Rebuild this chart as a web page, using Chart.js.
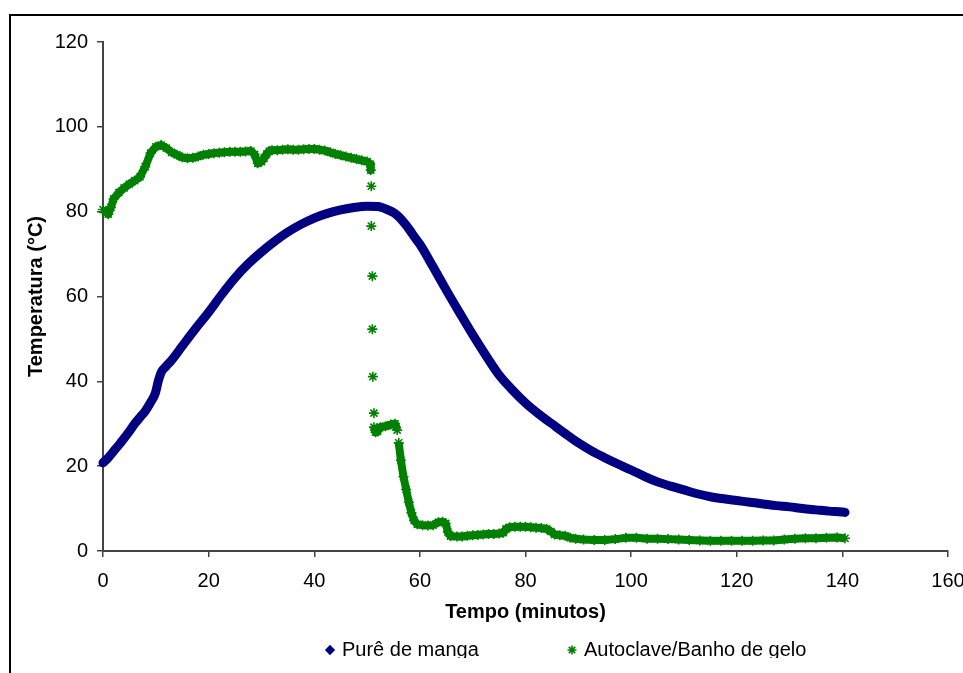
<!DOCTYPE html>
<html>
<head>
<meta charset="utf-8">
<title>Temperatura x Tempo</title>
<script src="https://cdn.jsdelivr.net/npm/chart.js@4.4.1/dist/chart.umd.min.js"></script>
<style>
	html, body { margin: 0; padding: 0; background: #fff; overflow: hidden; }
	canvas { display: block; }
</style>
</head>
<body>
<canvas id="chart" width="963" height="673"></canvas>
<script>
// Purê de manga
const pureTime = [0, 1, 2, 3, 4, 5, 6, 7, 8, 9, 9.9, 10.5, 11.1, 12, 13, 15, 17.5, 20, 22.5, 25, 27.5, 30, 32.5, 35, 37.5, 40, 42.5, 45, 47.5, 50, 52, 54, 55, 56, 57, 58, 59, 60, 62.5, 65, 67.5, 70, 72.5, 75, 77.5, 80, 82.5, 85, 87.5, 90, 92.5, 95, 97.5, 100, 102.5, 105, 107.5, 110, 112.5, 115, 117.5, 120, 122.5, 125, 127.5, 130, 132.5, 135, 137.5, 140, 140.5];
const pureTemp = [20.8, 22, 23.5, 25, 26.6, 28.2, 30, 31.5, 33, 35, 37.2, 40.2, 42.3, 43.6, 45, 48.3, 52.4, 56.3, 60.5, 64.4, 67.7, 70.5, 73, 75.2, 77, 78.5, 79.6, 80.4, 81, 81.3, 81.2, 80.4, 79.8, 78.8, 77.4, 75.8, 74, 72.3, 67, 61.5, 56.2, 51, 46.1, 41.5, 38, 34.9, 32.3, 30, 27.7, 25.5, 23.6, 22, 20.5, 19.1, 17.6, 16.3, 15.3, 14.4, 13.5, 12.8, 12.3, 11.9, 11.5, 11.1, 10.7, 10.4, 10, 9.7, 9.4, 9.2, 9.1];

// Autoclave/Banho de gelo
const autoTime = [0, 0.5, 1, 1.5, 2, 3, 4, 5, 6, 7, 8, 9, 10, 11, 12, 13, 14, 15, 16, 17, 18, 19, 20, 21, 22, 23, 24, 25, 26, 27, 28, 28.7, 29.3, 30, 30.5, 31, 31.5, 32, 33, 34, 35, 36, 37, 38, 39, 40, 41, 42, 43, 44, 45, 46, 47, 48, 49, 50, 50.6,
	50.7, 50.8, 50.8, 51.0, 51.0, 51.1, 51.3, 51.3,
	51.6, 52, 52.5, 53.5, 54.5, 55.3, 55.7, 56.0, 56.4, 56.9, 57.4, 57.9, 58.4, 58.9, 59.5, 60.5, 61.5, 62.5, 63.5, 64.3, 64.9, 65.3, 65.8, 67, 68, 69, 70, 71, 72, 73, 74, 75, 75.8, 76.3, 77, 78, 79, 80, 81, 82, 83, 84, 84.8, 85.5, 86.5, 87.5, 88.5, 89.5, 91, 93, 95, 97, 99, 101, 103, 105, 107, 109, 111, 113, 115, 117, 119, 121, 123, 125, 127, 129, 131, 133, 135, 137, 139, 140.5];
const autoTemp = [80.5, 80, 79.4, 81, 83, 84.5, 85.6, 86.5, 87.3, 88.2, 90.6, 93.8, 95.3, 95.7, 95, 94, 93.4, 92.8, 92.6, 92.7, 93, 93.4, 93.6, 93.8, 93.9, 94, 94.1, 94.1, 94.1, 94.2, 94.3, 93.5, 91.4, 91.8, 92.6, 93.6, 94.3, 94.5, 94.5, 94.6, 94.7, 94.6, 94.6, 94.7, 94.8, 94.8, 94.6, 94.4, 94, 93.6, 93.3, 93, 92.7, 92.4, 92.1, 91.8, 91.2,
	89.8, 86, 76.6, 64.8, 52.3, 41.1, 32.5, 29.2,
	28, 28.2, 29.2, 29.4, 29.8, 30, 28.5, 25.5, 21.4, 17.5, 14.5, 11.5, 9, 7.2, 6.3, 6.1, 6, 6.1, 6.8, 6.9, 6.5, 4.5, 3.5, 3.4, 3.4, 3.6, 3.7, 3.8, 3.9, 4, 4, 4.1, 4.3, 5.2, 5.6, 5.7, 5.7, 5.7, 5.6, 5.5, 5.4, 5.2, 4.6, 3.9, 3.7, 3.6, 3.1, 2.9, 2.7, 2.6, 2.6, 2.8, 3.1, 3.1, 2.9, 2.9, 2.8, 2.7, 2.6, 2.5, 2.4, 2.4, 2.4, 2.4, 2.4, 2.5, 2.5, 2.7, 2.9, 3, 3, 3.1, 3.2, 3];

const xTicks = [0, 20, 40, 60, 80, 100, 120, 140, 160];
const yTicks = [0, 20, 40, 60, 80, 100, 120];

const NAVY = '#000080';
const GREEN = '#008000';
const AXIS = '#444444';
const FONT = "'Liberation Sans', Arial, sans-serif";

function toPoints(xs, ys)
{
	return xs.map((x, i) => ({x: x, y: ys[i]}));
}

// white page + black frame that runs off the right and bottom edges
const framePlugin = {
	id: 'frame',
	beforeDraw(chart) {
		const ctx = chart.ctx;
		ctx.save();
		ctx.fillStyle = '#fff';
		ctx.fillRect(0, 0, chart.width, chart.height);
		ctx.strokeStyle = '#000';
		ctx.lineWidth = 2;
		ctx.strokeRect(10, 15, 2000, 2000);
		ctx.restore();
	}
};

// legend at the bottom, spaced like the original and clipped at its lower edge
const legendPlugin = {
	id: 'bottomLegend',
	afterDraw(chart) {
		const ctx = chart.ctx;
		const spots = [{x: 330, textX: 342}, {x: 572, textX: 584}];
		const y = 650;
		ctx.save();
		ctx.beginPath();
		ctx.rect(0, 0, chart.width, 658);
		ctx.clip();
		chart.data.datasets.forEach((ds, i) => {
			const spot = spots[i];
			ctx.fillStyle = ds.pointBackgroundColor;
			ctx.strokeStyle = ds.pointBorderColor;
			Chart.helpers.drawPoint(ctx, {
				pointStyle: ds.pointStyle,
				radius: i === 0 ? 4 : 4.5,
				borderWidth: 1.5,
				rotation: 0
			}, spot.x, y);
			ctx.fillStyle = '#000';
			ctx.font = '20px ' + FONT;
			ctx.textAlign = 'left';
			ctx.textBaseline = 'middle';
			ctx.fillText(ds.label, spot.textX, y);
		});
		ctx.restore();
	}
};

new Chart(document.getElementById('chart'), {
	type: 'line',
	data: {
		datasets: [
			{
				label: 'Purê de manga',
				data: toPoints(pureTime, pureTemp),
				borderColor: NAVY,
				backgroundColor: NAVY,
				borderWidth: 9,
				borderCapStyle: 'round',
				borderJoinStyle: 'round',
				cubicInterpolationMode: 'monotone',
				pointRadius: 0,
				pointStyle: 'rectRot',
				pointBackgroundColor: NAVY,
				pointBorderColor: NAVY,
				clip: false
			},
			{
				label: 'Autoclave/Banho de gelo',
				data: toPoints(autoTime, autoTemp),
				borderColor: GREEN,
				backgroundColor: GREEN,
				borderWidth: 8,
				borderJoinStyle: 'round',
				tension: 0,
				pointRadius: 5,
				pointBorderWidth: 1.6,
				pointStyle: 'star',
				pointBackgroundColor: GREEN,
				pointBorderColor: GREEN,
				clip: false,
				segment: {
					// the quench readings are separate markers, not a line
					borderColor: ctx => {
						const dx = Math.abs(ctx.p1.parsed.x - ctx.p0.parsed.x);
						const dy = Math.abs(ctx.p1.parsed.y - ctx.p0.parsed.y);
						return (dx < 0.3 && dy > 2.5) ? 'rgba(0,0,0,0)' : undefined;
					}
				}
			}
		]
	},
	options: {
		responsive: false,
		animation: false,
		devicePixelRatio: 1,
		events: [],
		layout: {
			padding: {left: 0, top: 42, right: 15, bottom: 0}
		},
		plugins: {
			legend: {display: false},
			tooltip: {enabled: false}
		},
		scales: {
			x: {
				type: 'linear',
				min: 0,
				max: 160,
				afterBuildTicks: scale => {
					scale.ticks = xTicks.map(v => ({value: v}));
				},
				afterFit: scale => {
					scale.height = 673 - 551;
					// the "160" label is allowed to run off the edge, as in the original
					scale.paddingRight = 0;
				},
				ticks: {
					color: '#000',
					font: {family: FONT, size: 20},
					padding: 12,
					maxRotation: 0
				},
				grid: {
					drawOnChartArea: false,
					drawTicks: true,
					tickLength: 6,
					color: AXIS,
					lineWidth: 1.5
				},
				border: {display: true, color: AXIS, width: 2},
				title: {
					display: true,
					text: 'Tempo (minutos)',
					color: '#000',
					font: {family: FONT, size: 20, weight: 'bold'},
					padding: {top: 0, bottom: 49}
				}
			},
			y: {
				type: 'linear',
				min: 0,
				max: 120,
				afterBuildTicks: scale => {
					scale.ticks = yTicks.map(v => ({value: v}));
				},
				afterFit: scale => {
					scale.width = 103;
				},
				ticks: {
					color: '#000',
					font: {family: FONT, size: 20},
					padding: 9
				},
				grid: {
					drawOnChartArea: false,
					drawTicks: true,
					tickLength: 6,
					color: AXIS,
					lineWidth: 1.5
				},
				border: {display: true, color: AXIS, width: 2},
				title: {
					display: true,
					text: 'Temperatura (°C)',
					color: '#000',
					font: {family: FONT, size: 20, weight: 'bold'},
					padding: {top: 24, bottom: 0}
				}
			}
		}
	},
	plugins: [framePlugin, legendPlugin]
});
</script>
</body>
</html>
